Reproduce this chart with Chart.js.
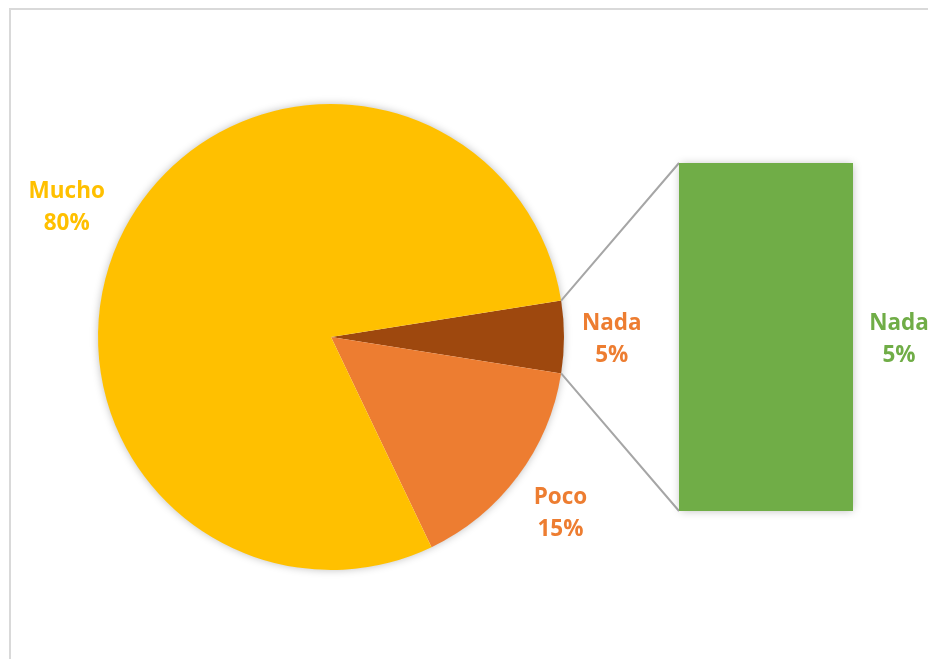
<!DOCTYPE html>
<html>
<head>
<meta charset="utf-8">
<script src="https://cdn.jsdelivr.net/npm/chart.js@4.4.1/dist/chart.umd.min.js"></script>
<style>
  html, body { margin: 0; padding: 0; background: #fff; overflow: hidden; }
  #wrap { position: relative; width: 928px; height: 659px; overflow: hidden; }
  #frame { position: absolute; left: 9px; top: 8px; width: 1200px; height: 900px; border: 2px solid #d9d9d9; box-sizing: border-box; }
  canvas { position: absolute; left: 0; top: 0; }
</style>
</head>
<body>
<div id="wrap">
  <div id="frame"></div>
  <canvas id="pie" width="928" height="659"></canvas>
  <canvas id="bar" width="928" height="659"></canvas>
</div>
<script>
// pie slices, clockwise starting from the right side
const categories = ['Nada', 'Poco', 'Mucho'];
const shares = [5, 15.4, 79.6];
// the part of the pie pulled out into the bar
const barCategories = ['Nada'];
const barShares = [5];

const sliceColors = ['#9E480E', '#ED7D31', '#FFC000'];
const labelColors = ['#ED7D31', '#ED7D31', '#FFC000'];
// label distance (x radius) and small turn (degrees) from the slice middle
const labelDist = [1.205, 1.235, 1.267];
const labelTurn = [0, 0.4, -1.25];
const barColor = '#70AD47';
const labelFont = 'bold 22.5px "Open Sans", sans-serif';

function drawTwoLines(ctx, x, y, a, b, color) {
  ctx.save();
  ctx.font = labelFont;
  ctx.fillStyle = color;
  ctx.textAlign = 'center';
  ctx.textBaseline = 'middle';
  ctx.fillText(a, x, y - 13.5);
  ctx.fillText(b, x, y + 18.5);
  ctx.restore();
}

const pieDecor = {
  id: 'pieDecor',
  beforeDatasetsDraw(chart) {
    // soft shadow under the pie
    const arc = chart.getDatasetMeta(0).data[0];
    const ctx = chart.ctx;
    ctx.save();
    ctx.shadowColor = 'rgba(0,0,0,0.28)';
    ctx.shadowBlur = 9;
    ctx.fillStyle = '#fff';
    ctx.beginPath();
    ctx.arc(arc.x, arc.y, arc.outerRadius - 0.5, 0, Math.PI * 2);
    ctx.fill();
    ctx.restore();
  },
  afterDatasetsDraw(chart) {
    const meta = chart.getDatasetMeta(0);
    meta.data.forEach((arc, i) => {
      const mid = (arc.startAngle + arc.endAngle) / 2 + labelTurn[i] * Math.PI / 180;
      const r = arc.outerRadius * labelDist[i];
      drawTwoLines(chart.ctx, arc.x + Math.cos(mid) * r, arc.y + Math.sin(mid) * r,
        categories[i], Math.round(shares[i]) + '%', labelColors[i]);
    });
  }
};

const pieChart = new Chart(document.getElementById('pie'), {
  type: 'pie',
  data: {
    labels: categories,
    datasets: [{
      data: shares,
      backgroundColor: sliceColors,
      borderWidth: 0
    }]
  },
  options: {
    responsive: false,
    animation: false,
    devicePixelRatio: 1,
    rotation: 81,
    layout: { padding: { left: 98, right: 364, top: 104, bottom: 89 } },
    plugins: { legend: { display: false }, tooltip: { enabled: false } }
  },
  plugins: [pieDecor]
});

const barDecor = {
  id: 'barDecor',
  beforeDatasetsDraw(chart) {
    const ctx = chart.ctx;
    const bar = chart.getDatasetMeta(0).data[0];
    const left = bar.x - bar.width / 2, top = bar.y, bottom = bar.base;
    // connector lines from the pulled slice to the bar
    const arcs = pieChart.getDatasetMeta(0).data;
    const nada = arcs[categories.indexOf(barCategories[0])];
    ctx.save();
    ctx.strokeStyle = '#a6a6a6';
    ctx.lineWidth = 2;
    ctx.beginPath();
    ctx.moveTo(nada.x + Math.cos(nada.startAngle) * nada.outerRadius, nada.y + Math.sin(nada.startAngle) * nada.outerRadius);
    ctx.lineTo(left, top);
    ctx.moveTo(nada.x + Math.cos(nada.endAngle) * nada.outerRadius, nada.y + Math.sin(nada.endAngle) * nada.outerRadius);
    ctx.lineTo(left, bottom);
    ctx.stroke();
    // shadow behind the bar
    ctx.shadowColor = 'rgba(0,0,0,0.28)';
    ctx.shadowBlur = 9;
    ctx.fillStyle = '#fff';
    ctx.fillRect(left + 0.5, top + 0.5, bar.width - 1, bottom - top - 1);
    ctx.restore();
  },
  afterDatasetsDraw(chart) {
    const bar = chart.getDatasetMeta(0).data[0];
    const x = bar.x + bar.width / 2 + 46;
    const y = (bar.y + bar.base) / 2;
    drawTwoLines(chart.ctx, x, y, barCategories[0], barShares[0] + '%', barColor);
  }
};

new Chart(document.getElementById('bar'), {
  type: 'bar',
  data: {
    labels: barCategories,
    datasets: [{
      data: barShares,
      backgroundColor: barColor,
      borderWidth: 0,
      barPercentage: 1,
      categoryPercentage: 1
    }]
  },
  options: {
    responsive: false,
    animation: false,
    devicePixelRatio: 1,
    layout: { padding: { left: 679, right: 75, top: 163, bottom: 148 } },
    scales: {
      x: { display: false },
      y: { display: false, min: 0, max: barShares[0] }
    },
    plugins: { legend: { display: false }, tooltip: { enabled: false } }
  },
  plugins: [barDecor]
});
</script>
</body>
</html>
